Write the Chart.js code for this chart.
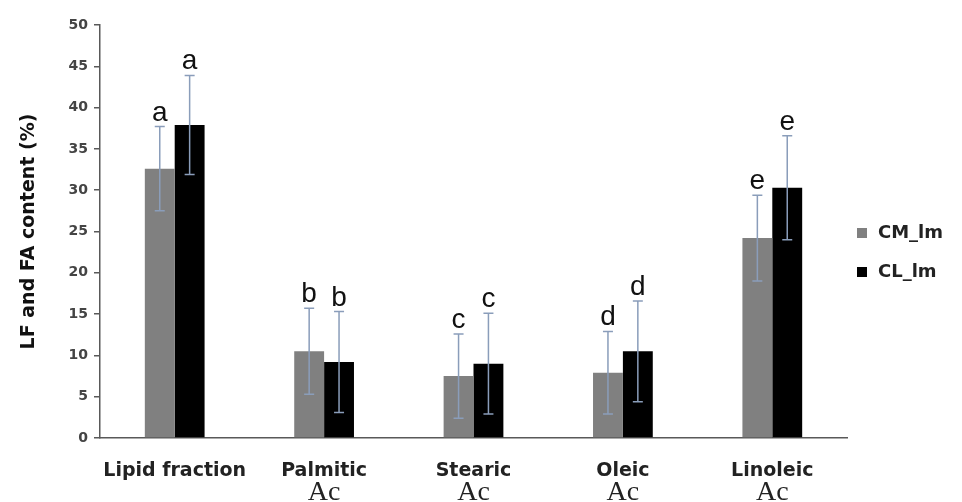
<!DOCTYPE html>
<html>
<head>
<meta charset="utf-8">
<script src="https://cdn.jsdelivr.net/npm/chart.js@4/dist/chart.umd.min.js"></script>
<style>
  html, body { margin: 0; padding: 0; background: #fff; }
  #wrap { width: 962px; height: 502px; position: relative; }
</style>
</head>
<body>
<div id="wrap"><canvas id="fattyChart"></canvas></div>
<script>
// values
const categories = ['Lipid fraction', 'Palmitic', 'Stearic', 'Oleic', 'Linoleic'];
const subLabels = ['', 'Ac', 'Ac', 'Ac', 'Ac'];
const cmValues = [32.6, 10.5, 7.5, 7.9, 24.2];
const cmErrors = [5.1, 5.2, 5.1, 5.0, 5.2];
const cmLetters = ['a', 'b', 'c', 'd', 'e'];
const clValues = [37.9, 9.2, 9.0, 10.5, 30.3];
const clErrors = [6.0, 6.1, 6.1, 6.1, 6.3];
const clLetters = ['a', 'b', 'c', 'd', 'e'];
const yTicks = [0, 5, 10, 15, 20, 25, 30, 35, 40, 45, 50];

const errorColor = '#8a9dba';
const axisColor = '#595959';

const errorBarPlugin = {
    id: 'errorBars',
    afterDatasetsDraw: (chart) => {
        const { ctx, scales: { y } } = chart;
        chart.data.datasets.forEach((ds, di) => {
            const meta = chart.getDatasetMeta(di);
            meta.data.forEach((bar, i) => {
                const v = ds.data[i];
                const e = ds.errors[i];
                const top = y.getPixelForValue(v + e);
                const bot = y.getPixelForValue(v - e);
                ctx.save();
                ctx.strokeStyle = errorColor;
                ctx.lineWidth = 1.5;
                ctx.beginPath();
                ctx.moveTo(bar.x, top);
                ctx.lineTo(bar.x, bot);
                ctx.moveTo(bar.x - 5, top);
                ctx.lineTo(bar.x + 5, top);
                ctx.moveTo(bar.x - 5, bot);
                ctx.lineTo(bar.x + 5, bot);
                ctx.stroke();

                ctx.fillStyle = '#111';
                ctx.font = '28px "Liberation Sans", Arial, sans-serif';
                ctx.textAlign = 'center';
                ctx.textBaseline = 'alphabetic';
                ctx.fillText(ds.letters[i], bar.x, top - 6);
                ctx.restore();
            });
        });
    }
};

const extraTextPlugin = {
    id: 'extraText',
    afterDraw: (chart) => {
        const { ctx, scales: { x } } = chart;
        ctx.save();
        ctx.fillStyle = '#222';
        ctx.font = '28px "Liberation Serif", "DejaVu Serif", serif';
        ctx.textAlign = 'center';
        ctx.textBaseline = 'alphabetic';
        subLabels.forEach((txt, i) => {
            if (!txt) return;
            ctx.fillText(txt, x.getPixelForValue(i), 500);
        });

        // legend
        const items = [
            { label: 'CM_lm', color: '#808080', y: 233 },
            { label: 'CL_lm', color: '#000000', y: 272 }
        ];
        ctx.font = 'bold 18px "DejaVu Sans", sans-serif';
        ctx.textAlign = 'left';
        ctx.textBaseline = 'middle';
        items.forEach((it) => {
            ctx.fillStyle = it.color;
            ctx.fillRect(857, it.y - 5, 10, 10);
            ctx.fillStyle = '#222';
            ctx.fillText(it.label, 878, it.y);
        });
        ctx.restore();
    }
};

new Chart(document.getElementById('fattyChart'), {
    type: 'bar',
    data: {
        labels: categories,
        datasets: [
            {
                label: 'CM_lm',
                data: cmValues,
                errors: cmErrors,
                letters: cmLetters,
                backgroundColor: '#808080',
                borderWidth: 0
            },
            {
                label: 'CL_lm',
                data: clValues,
                errors: clErrors,
                letters: clLetters,
                backgroundColor: '#000000',
                borderWidth: 0
            }
        ]
    },
    options: {
        responsive: true,
        maintainAspectRatio: false,
        animation: false,
        layout: { padding: { top: 25, right: 115, left: 18, bottom: 0 } },
        datasets: {
            bar: { categoryPercentage: 0.4, barPercentage: 1.0 }
        },
        scales: {
            x: {
                afterFit: (scale) => { scale.height = 64; },
                grid: { display: false },
                border: { display: true, color: axisColor, width: 1.5 },
                ticks: {
                    color: '#222',
                    padding: 14,
                    maxRotation: 0,
                    font: { family: '"DejaVu Sans", sans-serif', size: 19, weight: 'bold' }
                }
            },
            y: {
                min: 0,
                max: 50,
                afterFit: (scale) => { scale.width = 82; },
                afterBuildTicks: (scale) => {
                    scale.ticks = yTicks.map((v) => ({ value: v }));
                },
                grid: {
                    drawOnChartArea: false,
                    drawTicks: true,
                    tickLength: 6,
                    color: axisColor,
                    lineWidth: 1.5
                },
                border: { display: true, color: axisColor, width: 1.5 },
                ticks: {
                    color: '#444',
                    padding: 6,
                    font: { family: '"DejaVu Sans", sans-serif', size: 14, weight: 'bold' }
                },
                title: {
                    display: true,
                    text: 'LF and FA content (%)',
                    color: '#111',
                    padding: { top: 0, bottom: 10 },
                    font: { family: '"DejaVu Sans", sans-serif', size: 19, weight: 'bold' }
                }
            }
        },
        plugins: {
            legend: { display: false },
            tooltip: { enabled: false }
        }
    },
    plugins: [errorBarPlugin, extraTextPlugin]
});
</script>
</body>
</html>
